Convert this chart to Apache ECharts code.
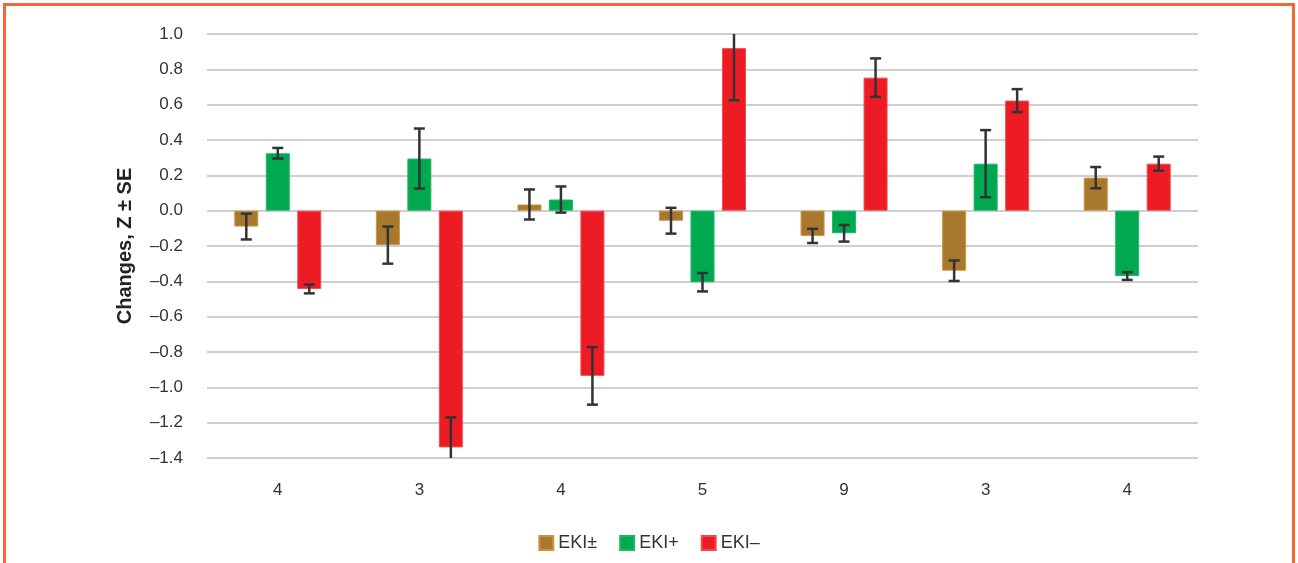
<!DOCTYPE html>
<html>
<head>
<meta charset="utf-8">
<title>Changes, Z ± SE</title>
<script src="https://cdn.jsdelivr.net/npm/echarts@6/dist/echarts.min.js"></script>
<style>
  html, body { margin: 0; padding: 0; background: #ffffff; }
  #chart { position: absolute; left: 0; top: 0; width: 1298px; height: 563px; }
  #frame {
    position: absolute; left: 3px; top: 3px; width: 1286px; height: 600px;
    border: 3px solid #f26a2b; border-bottom: none; pointer-events: none;
  }
</style>
</head>
<body>
<div id="chart"></div>
<div id="frame"></div>
<script>
// Group labels (sample counts) along the x axis
const categories = ['4', '3', '4', '5', '9', '3', '4'];
const seriesNames = ['EKI±', 'EKI+', 'EKI–'];

// Mean change per group and its standard error
const ekiMixed = [-0.09, -0.195, 0.035, -0.057, -0.143, -0.34, 0.187];
const ekiMixedSE = [0.073, 0.105, 0.085, 0.073, 0.04, 0.058, 0.06];
const ekiPlus = [0.325, 0.295, 0.063, -0.405, -0.128, 0.266, -0.37];
const ekiPlusSE = [0.03, 0.17, 0.074, 0.052, 0.047, 0.19, 0.022];
const ekiMinus = [-0.443, -1.34, -0.935, 0.92, 0.753, 0.623, 0.266];
const ekiMinusSE = [0.025, 0.17, 0.163, 0.295, 0.109, 0.065, 0.04];

const yTicks = { min: -1.4, max: 1.0, interval: 0.2 };

const colors = ['#a8782f', '#00a84f', '#ed1c24'];
const edgeColors = ['#c9953f', '#1fb766', '#f04a50'];
const BAR_WIDTH = 24;
const BAR_GAP = 0.3125;

const means = [ekiMixed, ekiPlus, ekiMinus];
const errors = [ekiMixedSE, ekiPlusSE, ekiMinusSE];

const barSeries = seriesNames.map((name, i) => ({
  name: name,
  type: 'bar',
  data: means[i],
  barWidth: BAR_WIDTH,
  barGap: (BAR_GAP * 100) + '%',
  itemStyle: { color: colors[i], borderColor: edgeColors[i], borderWidth: 1 },
  emphasis: { disabled: true },
  z: 2
}));

// Whiskers: one custom series per bar series, shifted to its bar slot
const errorSeries = seriesNames.map((name, i) => ({
  type: 'custom',
  name: name + ' SE',
  clip: true,
  z: 5,
  silent: true,
  encode: { x: 0, y: [1, 2] },
  data: means[i].map((m, k) => [k, m - errors[i][k], m + errors[i][k]]),
  renderItem: function (params, api) {
    const slot = (i - 1) * BAR_WIDTH * (1 + BAR_GAP);
    const lo = api.coord([api.value(0), api.value(1)]);
    const hi = api.coord([api.value(0), api.value(2)]);
    const x = lo[0] + slot;
    const cap = 5.5;
    const style = { stroke: '#333333', lineWidth: 2.5, fill: null };
    return {
      type: 'group',
      children: [
        { type: 'line', shape: { x1: x, y1: lo[1], x2: x, y2: hi[1] }, style: style },
        { type: 'line', shape: { x1: x - cap, y1: lo[1], x2: x + cap, y2: lo[1] }, style: style },
        { type: 'line', shape: { x1: x - cap, y1: hi[1], x2: x + cap, y2: hi[1] }, style: style }
      ]
    };
  }
}));

const chart = echarts.init(document.getElementById('chart'), null, { renderer: 'canvas' });
chart.setOption({
  backgroundColor: '#ffffff',
  animation: false,
  textStyle: { fontFamily: 'Liberation Sans, Arial, sans-serif' },
  grid: { left: 207, right: 100, top: 34, bottom: 105, containLabel: false },
  legend: {
    data: seriesNames,
    bottom: 6,
    left: 'center',
    itemWidth: 14,
    itemHeight: 14,
    itemGap: 22,
    icon: 'rect',
    textStyle: { fontSize: 18, color: '#333333', fontFamily: 'Liberation Sans, Arial, sans-serif' }
  },
  xAxis: {
    type: 'category',
    data: categories,
    axisLine: { show: false },
    axisTick: { show: false },
    axisLabel: { fontSize: 17, color: '#333333', margin: 24 },
    splitLine: { show: false }
  },
  yAxis: {
    type: 'value',
    min: yTicks.min,
    max: yTicks.max,
    interval: yTicks.interval,
    name: 'Changes, Z ± SE',
    nameLocation: 'middle',
    nameGap: 72,
    nameTextStyle: { fontSize: 20, fontWeight: 'bold', color: '#222222' },
    axisLine: { show: false },
    axisTick: { show: false },
    axisLabel: {
      fontSize: 17,
      color: '#333333',
      margin: 24,
      formatter: v => v.toFixed(1).replace('-', '–')
    },
    splitLine: { lineStyle: { color: '#cfcfcf', width: 2 } }
  },
  series: barSeries.concat(errorSeries)
});
</script>
</body>
</html>
